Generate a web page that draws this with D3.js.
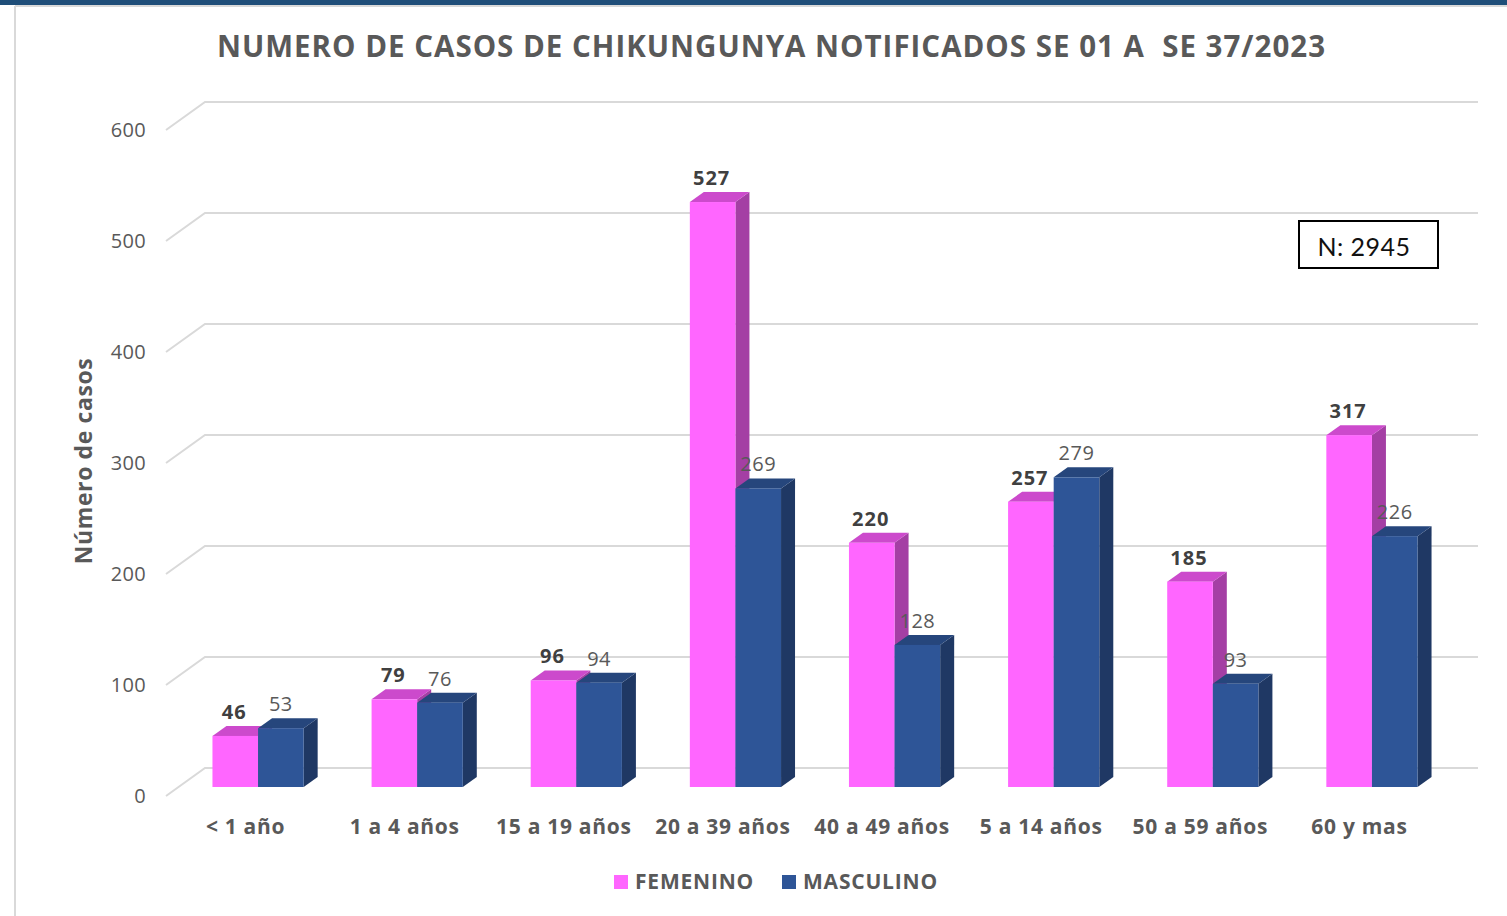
<!DOCTYPE html>
<html>
<head>
<meta charset="utf-8">
<style>
  body { margin: 0; background: #fff; }
  svg { display: block; }
  .tick-lbl { font-family: 'Open Sans', sans-serif; font-size: 20px; fill: #595959; letter-spacing: 0.3px; }
  .cat-lbl { font-family: 'Open Sans', sans-serif; font-size: 21px; font-weight: bold; fill: #595959; letter-spacing: 0.7px; }
</style>
</head>
<body>
<svg width="1507" height="916"></svg>
<script src="https://d3js.org/d3.v7.min.js"></script>
<script>
// datos
var grupos = ["< 1 año", "1 a 4 años", "15 a 19 años", "20 a 39 años", "40 a 49 años", "5 a 14 años", "50 a 59 años", "60 y mas"];
var femenino = [46, 79, 96, 527, 220, 257, 185, 317];
var masculino = [53, 76, 94, 269, 128, 279, 93, 226];
var series = ["FEMENINO", "MASCULINO"];
var ticksY = [0, 100, 200, 300, 400, 500, 600];

var svg = d3.select("svg");

// marco
svg.append("rect").attr("x", 0).attr("y", 0).attr("width", 1507).attr("height", 5).attr("fill", "#1F4E79");
svg.append("line").attr("x1", 15).attr("x2", 1507).attr("y1", 6).attr("y2", 6).attr("stroke", "#d9d9d9").attr("stroke-width", 2);
svg.append("line").attr("x1", 15).attr("x2", 15).attr("y1", 6).attr("y2", 916).attr("stroke", "#d9d9d9").attr("stroke-width", 2);

// planos 3D: frente, barras, pared del fondo
var front = {x0: 166, y0: 796};
var depth = {dx: 39, dy: -28};
var barShift = {dx: 12.5, dy: -9};
var pxPorUnidad = 1.11;

var y = d3.scaleLinear().domain([0, 600]).range([front.y0, front.y0 - 600 * pxPorUnidad]);
var x = d3.scaleBand().domain(grupos).range([front.x0, front.x0 + 1273]);

// rejilla
var grid = svg.append("g");
ticksY.forEach(function (t) {
  var yf = y(t);
  grid.append("polyline")
    .attr("points", [[front.x0, yf], [front.x0 + depth.dx, yf + depth.dy], [1478, yf + depth.dy]].join(" "))
    .attr("fill", "none")
    .attr("stroke", "#d9d9d9")
    .attr("stroke-width", 2);
  grid.append("text")
    .attr("class", "tick-lbl")
    .attr("x", 146)
    .attr("y", yf)
    .attr("dy", "0.35em")
    .attr("text-anchor", "end")
    .text(t);
});

// barras
var barW = 45.6, bdx = 14, bdy = -10;
var colores = [
  {front: "#FF66FF", top: "#CC4ACC", side: "#A43FA4"},
  {front: "#2E5597", top: "#26467C", side: "#1F3864"}
];
var valores = [femenino, masculino];
var barsG = svg.append("g");

grupos.forEach(function (g, i) {
  var cx = x(g) + x.bandwidth() / 2 + barShift.dx;
  valores.forEach(function (serie, s) {
    var v = serie[i];
    var x0 = cx - barW + s * barW;
    var x1 = x0 + barW;
    var yb = y(0) + barShift.dy;
    var yt = y(v) + barShift.dy;
    var c = colores[s];
    // cara lateral
    barsG.append("polygon")
      .attr("points", [[x1, yt], [x1 + bdx, yt + bdy], [x1 + bdx, yb + bdy], [x1, yb]].join(" "))
      .attr("fill", c.side);
    // cara superior
    barsG.append("polygon")
      .attr("points", [[x0, yt], [x0 + bdx, yt + bdy], [x1 + bdx, yt + bdy], [x1, yt]].join(" "))
      .attr("fill", c.top);
    // cara frontal
    barsG.append("rect")
      .attr("x", x0).attr("y", yt)
      .attr("width", barW).attr("height", yb - yt)
      .attr("fill", c.front);
    // etiqueta de valor
    barsG.append("text")
      .attr("x", (x0 + x1) / 2 - (s === 0 ? 1 : 0))
      .attr("y", yt + bdy - 7)
      .attr("text-anchor", "middle")
      .style("font-family", "'Open Sans', sans-serif")
      .style("font-size", "20px")
      .style("letter-spacing", s === 0 ? "1px" : "0.5px")
      .style("font-weight", s === 0 ? "bold" : "normal")
      .style("fill", s === 0 ? "#404040" : "#595959")
      .text(v);
  });
});

// etiquetas de categorias
svg.append("g").selectAll("text")
  .data(grupos)
  .enter().append("text")
  .attr("class", "cat-lbl")
  .attr("x", function (d) { return x(d) + x.bandwidth() / 2; })
  .attr("y", 834)
  .attr("text-anchor", "middle")
  .text(function (d) { return d; });

// titulo eje Y
svg.append("text")
  .attr("transform", "translate(92,461) rotate(-90)")
  .attr("text-anchor", "middle")
  .style("font-family", "'Open Sans', sans-serif")
  .style("font-size", "23px")
  .style("letter-spacing", "0.6px")
  .style("font-weight", "bold")
  .style("fill", "#595959")
  .text("Número de casos");

// titulo
svg.append("text")
  .attr("x", 217)
  .attr("y", 57)
  .attr("textLength", 1108)
  .attr("lengthAdjust", "spacing")
  .attr("xml:space", "preserve")
  .style("white-space", "pre")
  .style("font-family", "'Open Sans', sans-serif")
  .style("font-size", "29.5px")
  .style("font-weight", "bold")
  .style("fill", "#595959")
  .text("NUMERO DE CASOS DE CHIKUNGUNYA NOTIFICADOS SE 01 A  SE 37/2023");

// caja N
svg.append("rect")
  .attr("x", 1299).attr("y", 221).attr("width", 139).attr("height", 47)
  .attr("fill", "#fff").attr("stroke", "#000").attr("stroke-width", 2);
svg.append("text")
  .attr("x", 1364).attr("y", 247).attr("dy", "0.35em")
  .attr("text-anchor", "middle")
  .style("font-family", "Lato, sans-serif")
  .style("font-size", "25px")
  .style("letter-spacing", "0.5px")
  .style("fill", "#111")
  .text("N: 2945");

// leyenda
var legX = [614, 782];
var leg = svg.append("g");
series.forEach(function (s, i) {
  leg.append("rect")
    .attr("x", legX[i]).attr("y", 875).attr("width", 14).attr("height", 14)
    .attr("fill", colores[i].front);
  leg.append("text")
    .attr("x", legX[i] + 21).attr("y", 882).attr("dy", "0.35em")
    .style("font-family", "'Open Sans', sans-serif")
    .style("font-size", "21px")
    .style("letter-spacing", "0.8px")
    .style("font-weight", "bold")
    .style("fill", "#595959")
    .text(s);
});
</script>
</body>
</html>
